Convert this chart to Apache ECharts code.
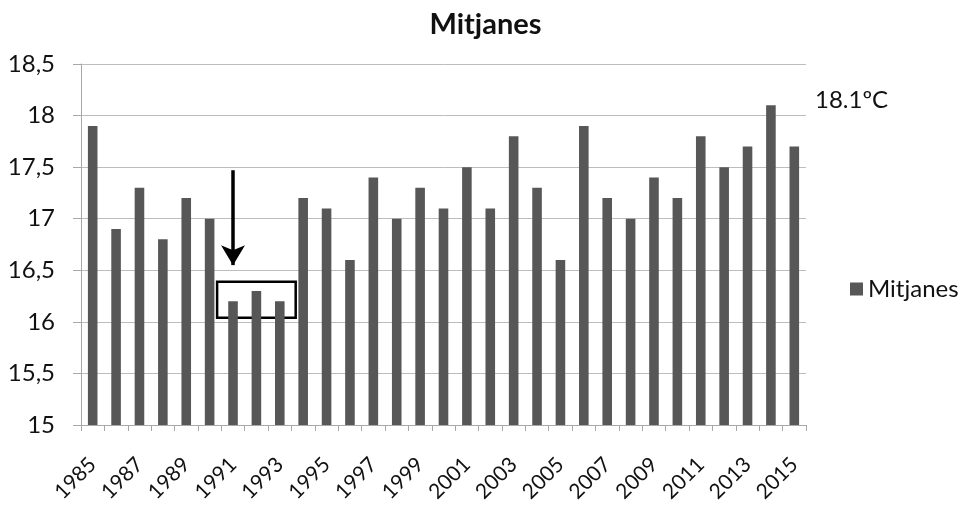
<!DOCTYPE html>
<html>
<head>
<meta charset="utf-8">
<script src="https://cdn.jsdelivr.net/npm/echarts@6/dist/echarts.min.js"></script>
<style>html,body{margin:0;padding:0;background:#fff}#c{width:971px;height:509px}</style>
</head>
<body>
<div id="c"></div>
<script>
const years = ['1985','1986','1987','1988','1989','1990','1991','1992','1993','1994','1995','1996','1997','1998','1999','2000','2001','2002','2003','2004','2005','2006','2007','2008','2009','2010','2011','2012','2013','2014','2015'];
const mitjanes = [17.9,16.9,17.3,16.8,17.2,17.0,16.2,16.3,16.2,17.2,17.1,16.6,17.4,17.0,17.3,17.1,17.5,17.1,17.8,17.3,16.6,17.9,17.2,17.0,17.4,17.2,17.8,17.5,17.7,18.1,17.7];
const yTicks = {min: 15, max: 18.5, interval: 0.5};
const maxLabel = '18.1ºC';
const boxYears = ['1991','1993'];
const boxRange = [16.04, 16.39];
const arrowYear = '1991';
const arrowRange = [17.47, 16.55];

const FONT = 'Lato';
const TXT = '#111';
const chart = echarts.init(document.getElementById('c'));
chart.setOption({
  animation: false,
  backgroundColor: '#fff',
  title: {
    text: 'Mitjanes', left: 'center', top: 5,
    textStyle: {fontFamily: FONT, fontWeight: 'bold', fontSize: 29, color: TXT}
  },
  legend: {
    data: ['Mitjanes'], orient: 'vertical', left: 845, top: 272,
    itemWidth: 13, itemHeight: 13, itemGap: 8,
    icon: 'rect',
    textStyle: {fontFamily: FONT, fontSize: 24, color: TXT}
  },
  grid: {left: 81, right: 165, top: 64, bottom: 84, containLabel: false},
  xAxis: {
    type: 'category', data: years, boundaryGap: true,
    axisLine: {lineStyle: {color: '#a8a8a8', width: 1}},
    axisTick: {show: true, alignWithLabel: false, interval: 0, length: 6, lineStyle: {color: '#a8a8a8'}},
    axisLabel: {interval: 1, rotate: 45, fontFamily: FONT, fontSize: 21, color: TXT, margin: 36},
    splitLine: {show: false}
  },
  yAxis: {
    type: 'value', min: yTicks.min, max: yTicks.max, interval: yTicks.interval,
    axisLine: {show: true, lineStyle: {color: '#a8a8a8', width: 1}},
    axisTick: {show: true, length: 8, lineStyle: {color: '#a8a8a8'}},
    axisLabel: {
      fontFamily: FONT, fontSize: 24, color: TXT, margin: 26,
      formatter: v => String(v).replace('.', ',')
    },
    splitLine: {lineStyle: {color: '#bdbdbd', width: 1}}
  },
  series: [{
    name: 'Mitjanes', type: 'bar', data: mitjanes, barWidth: '41%',
    itemStyle: {color: '#575757'},
    markLine: {
      silent: true, animation: false,
      symbol: ['none', 'arrow'], symbolSize: [18, 20],
      label: {show: false},
      lineStyle: {color: '#000', width: 3.5, type: 'solid'},
      data: [[{coord: [arrowYear, arrowRange[0]]}, {coord: [arrowYear, arrowRange[1]]}]]
    }
  }]
});

function drawOverlay() {
  const c1 = chart.convertToPixel({gridIndex: 0}, [boxYears[0], boxRange[1]]);
  const c2 = chart.convertToPixel({gridIndex: 0}, [boxYears[1], boxRange[0]]);
  const c0 = chart.convertToPixel({gridIndex: 0}, [years[0], yTicks.min]);
  const cA = chart.convertToPixel({gridIndex: 0}, [years[1], yTicks.min]);
  const bw = cA[0] - c0[0];
  const pad = bw * 0.68;
  const top18 = chart.convertToPixel({gridIndex: 0}, [years[years.length - 1], 18]);
  chart.setOption({
    graphic: [
      {
        type: 'rect', silent: true,
        shape: {x: c1[0] - pad, y: c1[1], width: (c2[0] - c1[0]) + 2 * pad, height: c2[1] - c1[1]},
        style: {fill: 'none', stroke: '#000', lineWidth: 2.5}
      },
      {
        type: 'text', silent: true, left: 815, top: top18[1] - 27,
        style: {text: maxLabel, fontFamily: FONT, fontSize: 24, fill: TXT}
      }
    ]
  });
}
drawOverlay();
</script>
</body>
</html>
